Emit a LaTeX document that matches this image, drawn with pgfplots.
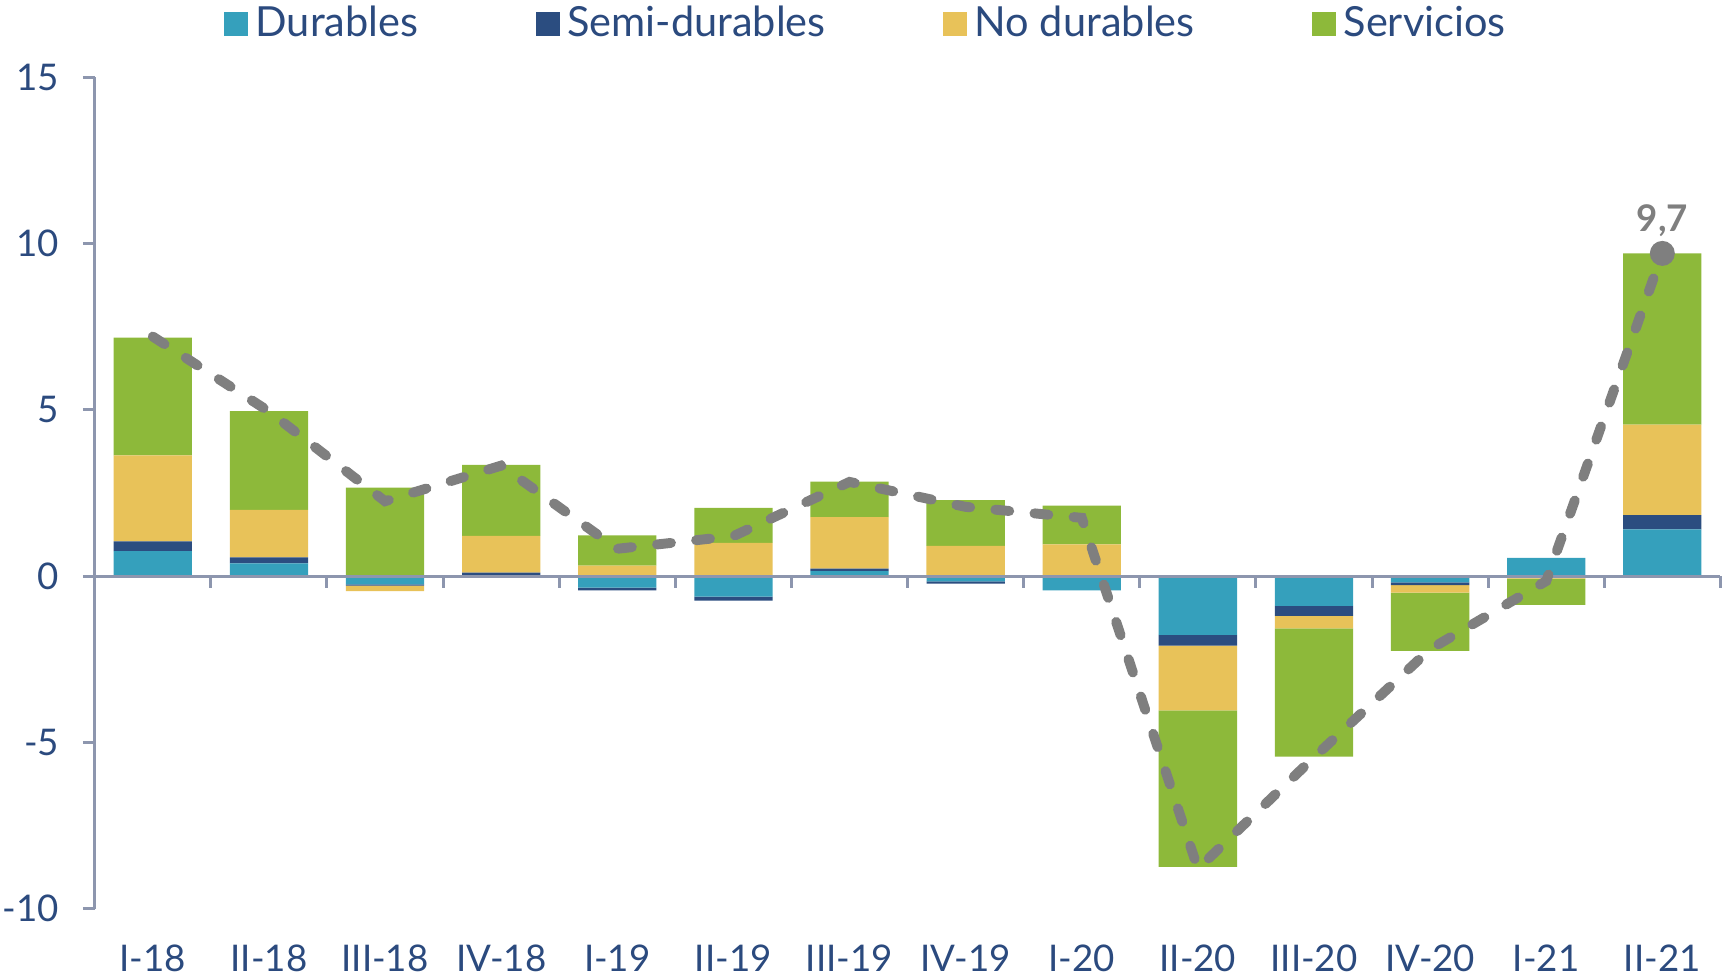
\documentclass[border=0pt]{standalone}
\usepackage{pgfplots}
\pgfplotsset{compat=1.18}
\usepackage{fontspec}
\setmainfont{Lato}

\definecolor{dur}{RGB}{53,160,188}
\definecolor{semi}{RGB}{43,77,128}
\definecolor{nodur}{RGB}{232,194,89}
\definecolor{serv}{RGB}{141,185,58}
\definecolor{navy}{RGB}{43,74,126}
\definecolor{axisgray}{RGB}{141,150,174}
\definecolor{linegray}{RGB}{127,127,127}

\pgfplotsset{
  base/.style={width=442.8pt, height=226.5pt, scale only axis,
    xmin=-0.5, xmax=13.5, ymin=-10, ymax=15,
    at={(0,0)}, anchor=south west},
  bars/.style={base, ybar stacked, bar width=0.674},
  legsq/.style={legend image code/.code={\path[##1,draw=none] (0pt,-3.3pt) rectangle (6.6pt,3.3pt);}},
}

\begin{document}
\begin{tikzpicture}
\useasboundingbox (-25.8pt,-18.6pt) rectangle (444.6pt,247.5pt);

% positive parts
\begin{axis}[bars,
  axis y line*=left, axis x line*=bottom,
  x axis line style={draw=none},
  y axis line style={color=axisgray, line width=0.8pt},
  xtick={0,...,13},
  xticklabels={I-18,II-18,III-18,IV-18,I-19,II-19,III-19,IV-19,I-20,II-20,III-20,IV-20,I-21,II-21},
  xtick style={draw=none},
  ytick={-10,-5,...,15},
  yticklabels={-10,-5,0,5,10,15},
  ytick style={color=axisgray, line width=0.8pt},
  tick align=outside, major tick length=3.2pt,
  tick label style={font=\fontsize{10}{12}\selectfont, color=navy},
  yticklabel style={xshift=-3pt},
  xticklabel style={yshift=-3pt},
  legend style={at={(0.476,1.0636)}, anchor=center, legend columns=4,
    draw=none, fill=none, font=\fontsize{11.3}{13}\selectfont, text=navy,
    /tikz/every even column/.append style={column sep=30pt}},
]
\addplot[fill=dur, draw=none, legsq] coordinates {
(0,0.75) (1,0.38) (2,0) (3,0.03) (4,0) (5,0) (6,0.15) (7,0) (8,0) (9,0) (10,0) (11,0) (12,0.55) (13,1.40)};
\addplot[fill=semi, draw=none, legsq] coordinates {
(0,0.29) (1,0.18) (2,0) (3,0.07) (4,0) (5,0) (6,0.07) (7,0) (8,0) (9,0) (10,0) (11,0) (12,0) (13,0.43)};
\addplot[fill=nodur, draw=none, legsq] coordinates {
(0,2.59) (1,1.43) (2,0) (3,1.11) (4,0.31) (5,1.00) (6,1.55) (7,0.91) (8,0.95) (9,0) (10,0) (11,0) (12,0) (13,2.72)};
\addplot[fill=serv, draw=none, legsq] coordinates {
(0,3.54) (1,2.97) (2,2.66) (3,2.13) (4,0.91) (5,1.05) (6,1.07) (7,1.37) (8,1.17) (9,0) (10,0) (11,0) (12,0) (13,5.15)};
\legend{Durables,Semi-durables,No durables,Servicios}
\end{axis}

% negative parts
\begin{axis}[bars, hide axis]
\addplot[fill=dur, draw=none] coordinates {
(0,0) (1,0) (2,-0.25) (3,0) (4,-0.35) (5,-0.62) (6,0) (7,-0.16) (8,-0.43) (9,-1.77) (10,-0.90) (11,-0.19) (12,0) (13,0)};
\addplot[fill=semi, draw=none] coordinates {
(0,0) (1,0) (2,-0.04) (3,0) (4,-0.08) (5,-0.12) (6,0) (7,-0.07) (8,0) (9,-0.32) (10,-0.30) (11,-0.08) (12,-0.02) (13,0)};
\addplot[fill=nodur, draw=none] coordinates {
(0,0) (1,0) (2,-0.16) (3,0) (4,0) (5,0) (6,0) (7,0) (8,0) (9,-1.95) (10,-0.37) (11,-0.23) (12,-0.06) (13,0)};
\addplot[fill=serv, draw=none] coordinates {
(0,0) (1,0) (2,0) (3,0) (4,0) (5,0) (6,0) (7,0) (8,0) (9,-4.70) (10,-3.86) (11,-1.75) (12,-0.79) (13,0)};
\end{axis}

% zero line, total line
\begin{axis}[base, hide axis, clip=false]
\draw[axisgray, line width=0.8pt] (axis cs:-0.5,0) -- (axis cs:13.5,0);
\pgfplotsinvokeforeach{0.5,1.5,2.5,3.5,4.5,5.5,6.5,7.5,8.5,9.5,10.5,11.5,12.5,13.5}{
  \draw[axisgray, line width=0.8pt] (axis cs:#1,0) -- ++(0pt,-3.3pt);
}
\addplot[linegray, line width=2.7pt, line cap=round, dash pattern=on 3.8pt off 6.9pt] coordinates {
(0,7.2) (1,4.95) (2,2.25) (3,3.32) (4,0.82) (5,1.2) (6,2.83) (7,2.08) (8,1.75) (9,-8.8) (10,-5.45) (11,-2.2) (12,-0.15) (13,9.7)};
\addplot[only marks, mark=*, mark size=3.2pt, linegray,
  nodes near coords={\bfseries 9,7},
  every node near coord/.append style={font=\fontsize{10}{12}\selectfont\bfseries, text=linegray, yshift=1pt}]
  coordinates {(13,9.7)};
\end{axis}
\end{tikzpicture}
\end{document}
